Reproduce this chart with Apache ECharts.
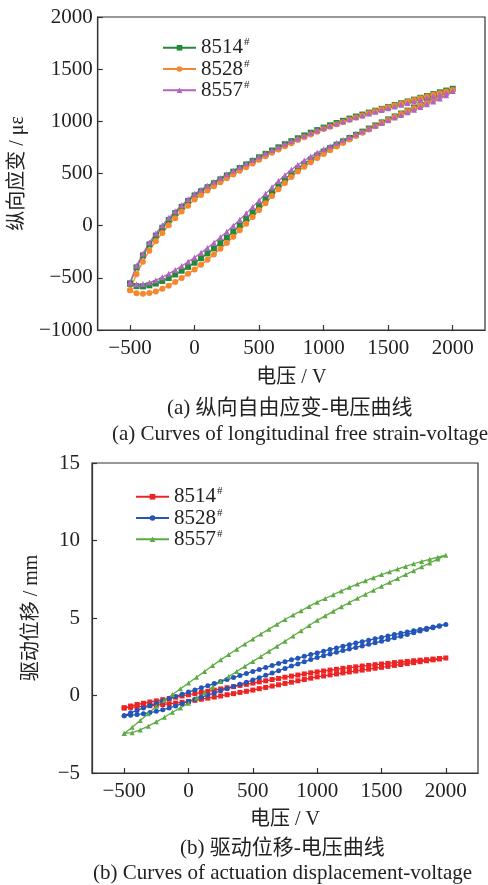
<!DOCTYPE html>
<html>
<head>
<meta charset="utf-8">
<script src="https://cdn.jsdelivr.net/npm/echarts@6/dist/echarts.min.js"></script>
<style>html,body{margin:0;padding:0;background:#fff;}#c{width:488px;height:885px;}</style>
</head>
<body>
<div id="c"></div>
<script>
// ---------- DATA ----------
// Voltage grid (V), 50 V steps
const voltage50 = [-500,-450,-400,-350,-300,-250,-200,-150,-100,-50,0,50,100,150,200,250,300,350,400,450,500,550,600,650,700,750,800,850,900,950,1000,1050,1100,1150,1200,1250,1300,1350,1400,1450,1500,1550,1600,1650,1700,1750,1800,1850,1900,1950,2000];
// Voltage grid (V), 62.5 V steps (8557# displacement)
const voltage62 = [-500,-437.5,-375,-312.5,-250,-187.5,-125,-62.5,0,62.5,125,187.5,250,312.5,375,437.5,500,562.5,625,687.5,750,812.5,875,937.5,1000,1062.5,1125,1187.5,1250,1312.5,1375,1437.5,1500,1562.5,1625,1687.5,1750,1812.5,1875,1937.5,2000];

// (a) longitudinal strain (με): rising branch / falling branch, both listed by ascending voltage
const strain8514Rise = [-555,-580,-582,-572,-555,-530,-502,-468,-432,-395,-355,-312,-266,-218,-167,-113,-57,3,65,128,192,257,322,385,444,498,548,593,635,673,710,743,776,808,840,871,901,931,961,990,1019,1047,1075,1103,1131,1159,1189,1219,1249,1280,1312];
const strain8514Fall = [-555,-400,-285,-180,-95,-20,55,120,180,237,290,330,368,406,444,481,517,552,587,621,655,688,720,751,781,810,838,865,891,916,940,962,984,1005,1026,1046,1065,1084,1102,1120,1138,1156,1173,1191,1208,1226,1243,1261,1278,1295,1312];
const strain8528Rise = [-620,-648,-652,-645,-630,-605,-575,-540,-502,-462,-420,-375,-326,-276,-222,-166,-107,-45,19,84,150,216,284,349,410,466,518,565,609,649,688,723,758,792,826,859,891,922,953,983,1013,1042,1070,1098,1126,1154,1183,1212,1241,1271,1300];
const strain8528Fall = [-620,-465,-345,-240,-150,-70,5,72,135,192,250,295,337,377,416,454,490,526,561,596,631,665,698,730,761,791,820,848,875,901,926,949,972,994,1016,1037,1057,1077,1096,1115,1134,1152,1169,1187,1204,1221,1237,1254,1270,1285,1300];
const strain8557Rise = [-545,-562,-560,-545,-523,-494,-462,-425,-386,-347,-305,-260,-213,-164,-112,-58,-1,57,118,180,242,305,368,428,484,535,582,624,663,698,732,762,792,821,850,878,905,932,959,985,1011,1036,1061,1086,1111,1137,1164,1191,1218,1250,1290];
const strain8557Fall = [-545,-385,-268,-162,-75,2,75,138,196,252,305,345,383,420,457,493,528,562,596,629,662,694,725,755,784,812,839,865,890,914,937,958,979,999,1019,1038,1056,1074,1091,1108,1125,1142,1158,1175,1191,1208,1224,1241,1257,1273,1290];

// (b) actuation displacement (mm)
const disp8514Rise = [-0.80,-0.77,-0.74,-0.70,-0.66,-0.62,-0.58,-0.53,-0.49,-0.44,-0.38,-0.31,-0.24,-0.17,-0.10,-0.03,0.05,0.12,0.20,0.27,0.35,0.44,0.52,0.61,0.69,0.78,0.86,0.95,1.03,1.12,1.20,1.26,1.33,1.39,1.46,1.52,1.58,1.64,1.70,1.76,1.82,1.88,1.94,2.00,2.06,2.12,2.18,2.24,2.30,2.36,2.42];
const disp8514Fall = [-0.80,-0.68,-0.58,-0.50,-0.42,-0.35,-0.27,-0.19,-0.11,-0.03,0.05,0.12,0.20,0.27,0.35,0.42,0.50,0.57,0.65,0.72,0.80,0.88,0.95,1.03,1.10,1.18,1.25,1.32,1.39,1.46,1.52,1.58,1.64,1.69,1.75,1.80,1.85,1.90,1.94,1.99,2.03,2.07,2.12,2.16,2.20,2.24,2.28,2.31,2.35,2.38,2.42];
const disp8528Rise = [-1.30,-1.27,-1.23,-1.17,-1.10,-1.02,-0.92,-0.80,-0.67,-0.53,-0.38,-0.24,-0.11,0.03,0.16,0.30,0.44,0.58,0.72,0.86,1.00,1.15,1.30,1.45,1.60,1.75,1.90,2.04,2.18,2.32,2.45,2.57,2.68,2.79,2.90,3.00,3.10,3.20,3.30,3.40,3.50,3.61,3.72,3.83,3.94,4.05,4.16,4.26,4.37,4.47,4.58];
const disp8528Fall = [-1.30,-1.12,-0.96,-0.80,-0.65,-0.50,-0.35,-0.20,-0.06,0.08,0.22,0.36,0.50,0.63,0.77,0.90,1.03,1.16,1.29,1.42,1.55,1.68,1.81,1.93,2.06,2.18,2.30,2.41,2.53,2.64,2.75,2.86,2.97,3.07,3.18,3.28,3.38,3.47,3.57,3.66,3.75,3.84,3.93,4.01,4.10,4.18,4.26,4.34,4.42,4.50,4.58];
const disp8557Rise = [-2.45,-2.40,-2.22,-1.98,-1.70,-1.40,-1.08,-0.80,-0.50,-0.16,0.20,0.55,0.90,1.22,1.55,1.88,2.20,2.52,2.85,3.17,3.50,3.84,4.18,4.52,4.85,5.14,5.43,5.72,6.00,6.27,6.53,6.79,7.05,7.30,7.55,7.80,8.05,8.30,8.55,8.80,9.05];
const disp8557Fall = [-2.45,-2.05,-1.62,-1.17,-0.70,-0.32,0.06,0.43,0.80,1.18,1.55,1.93,2.30,2.64,2.98,3.32,3.65,3.97,4.28,4.59,4.90,5.19,5.47,5.75,6.02,6.26,6.50,6.75,6.98,7.19,7.40,7.60,7.80,7.98,8.16,8.33,8.50,8.65,8.79,8.92,9.05];

const specimenNames = ['8514', '8528', '8557'];
const xTickValues = [-500, 0, 500, 1000, 1500, 2000];

// ---------- BUILD ----------
function loop(v, rise, fall) {
  const out = rise.map((y, i) => [v[i], y]);
  for (let i = fall.length - 2; i >= 0; i--) out.push([v[i], fall[i]]);
  return out;
}
const SERIF = '"Liberation Serif","Times New Roman",serif';
const MIXED = '"Liberation Serif","Noto Sans CJK SC",serif';
const minus = v => String(v).replace('-', '\u2212');

function xAxisCfg(gi, name, nameGap) {
  return {
    type: 'value', gridIndex: gi, min: -750, max: 2250,
    name: name, nameLocation: 'middle', nameGap: nameGap,
    nameTextStyle: { fontFamily: MIXED, fontSize: 20, color: '#222' },
    axisLine: { show: true, onZero: false, lineStyle: { color: '#333', width: 1.2 } },
    axisTick: { show: true, inside: true, length: 5, customValues: xTickValues, lineStyle: { color: '#333', width: 1.2 } },
    axisLabel: { customValues: xTickValues, fontFamily: SERIF, fontSize: 21, color: '#222', margin: 8, formatter: minus },
    splitLine: { show: false }
  };
}
function yAxisCfg(gi, name, nameGap, min, max, interval, margin) {
  return {
    type: 'value', gridIndex: gi, min: min, max: max, interval: interval,
    name: name, nameLocation: 'middle', nameGap: nameGap, nameRotate: 90,
    nameTextStyle: { fontFamily: MIXED, fontSize: 20, color: '#222' },
    axisLine: { show: true, onZero: false, lineStyle: { color: '#333', width: 1.2 } },
    axisTick: { show: true, inside: true, length: 5, lineStyle: { color: '#333', width: 1.2 } },
    axisLabel: { fontFamily: SERIF, fontSize: 21, color: '#222', margin: margin, formatter: minus },
    splitLine: { show: false }
  };
}
function seriesCfg(name, gi, data, color, symbol, size) {
  return {
    type: 'line', name: name, xAxisIndex: gi, yAxisIndex: gi, data: data,
    symbol: symbol, symbolSize: size, showSymbol: true, showAllSymbol: true,
    lineStyle: { color: color, width: 1.3 }, itemStyle: { color: color },
    animation: false, silent: true
  };
}
const colorsA = ['#23893b', '#f7862c', '#b463c2'];
const colorsB = ['#ec2424', '#2356b8', '#5dab43'];
const symbols = ['rect', 'circle', 'triangle'];

const legendText = {
  fontFamily: SERIF, fontSize: 21, color: '#222',
  rich: {
    n: { fontFamily: SERIF, fontSize: 21, color: '#222', lineHeight: 21.5 },
    s: { fontFamily: SERIF, fontSize: 11, color: '#222', verticalAlign: 'top', lineHeight: 11, padding: [0, 0, 10, 1] }
  }
};
const legendFmt = name => '{n|' + name.slice(2) + '}{s|#}';

const option = {
  backgroundColor: '#fff',
  animation: false,
  grid: [
    { left: 97, top: 17, width: 388, height: 313, show: true, borderColor: '#333', borderWidth: 1.2 },
    { left: 92, top: 463, width: 386, height: 310, show: true, borderColor: '#333', borderWidth: 1.2 }
  ],
  xAxis: [xAxisCfg(0, '电压 / V', 38), xAxisCfg(1, '电压 / V', 37)],
  yAxis: [
    yAxisCfg(0, '纵向应变 / με', 64, -1000, 2000, 500, 5),
    yAxisCfg(1, '驱动位移 / mm', 50, -5, 15, 5, 12)
  ],
  legend: [
    { data: specimenNames.map(n => 'a-' + n), orient: 'vertical', left: 162, top: 37, padding: 0, itemWidth: 33, itemHeight: 7, itemGap: 0,
      formatter: legendFmt, textStyle: legendText, selectedMode: false },
    { data: specimenNames.map(n => 'b-' + n), orient: 'vertical', left: 135, top: 486, padding: 0, itemWidth: 33, itemHeight: 7, itemGap: 0,
      formatter: legendFmt, textStyle: legendText, selectedMode: false }
  ],
  series: [
    seriesCfg('a-' + specimenNames[0], 0, loop(voltage50, strain8514Rise, strain8514Fall), colorsA[0], symbols[0], 6),
    seriesCfg('a-' + specimenNames[1], 0, loop(voltage50, strain8528Rise, strain8528Fall), colorsA[1], symbols[1], 6),
    seriesCfg('a-' + specimenNames[2], 0, loop(voltage50, strain8557Rise, strain8557Fall), colorsA[2], symbols[2], 6),
    seriesCfg('b-' + specimenNames[0], 1, loop(voltage50, disp8514Rise, disp8514Fall), colorsB[0], symbols[0], 5),
    seriesCfg('b-' + specimenNames[1], 1, loop(voltage50, disp8528Rise, disp8528Fall), colorsB[1], symbols[1], 5),
    seriesCfg('b-' + specimenNames[2], 1, loop(voltage62, disp8557Rise, disp8557Fall), colorsB[2], symbols[2], 5)
  ],
  graphic: [
    { type: 'text', left: 167, top: 398, style: { text: '(a) 纵向自由应变-电压曲线', font: '21px ' + MIXED, fill: '#222' } },
    { type: 'text', left: 112, top: 424, style: { text: '(a) Curves of longitudinal free strain-voltage', font: '21px ' + SERIF, fill: '#222' } },
    { type: 'text', left: 180, top: 838, style: { text: '(b) 驱动位移-电压曲线', font: '21px ' + MIXED, fill: '#222' } },
    { type: 'text', left: 93, top: 863, style: { text: '(b) Curves of actuation displacement-voltage', font: '21px ' + SERIF, fill: '#222' } }
  ]
};
const chart = echarts.init(document.getElementById('c'), null, { renderer: 'canvas' });
chart.setOption(option);
</script>
</body>
</html>
